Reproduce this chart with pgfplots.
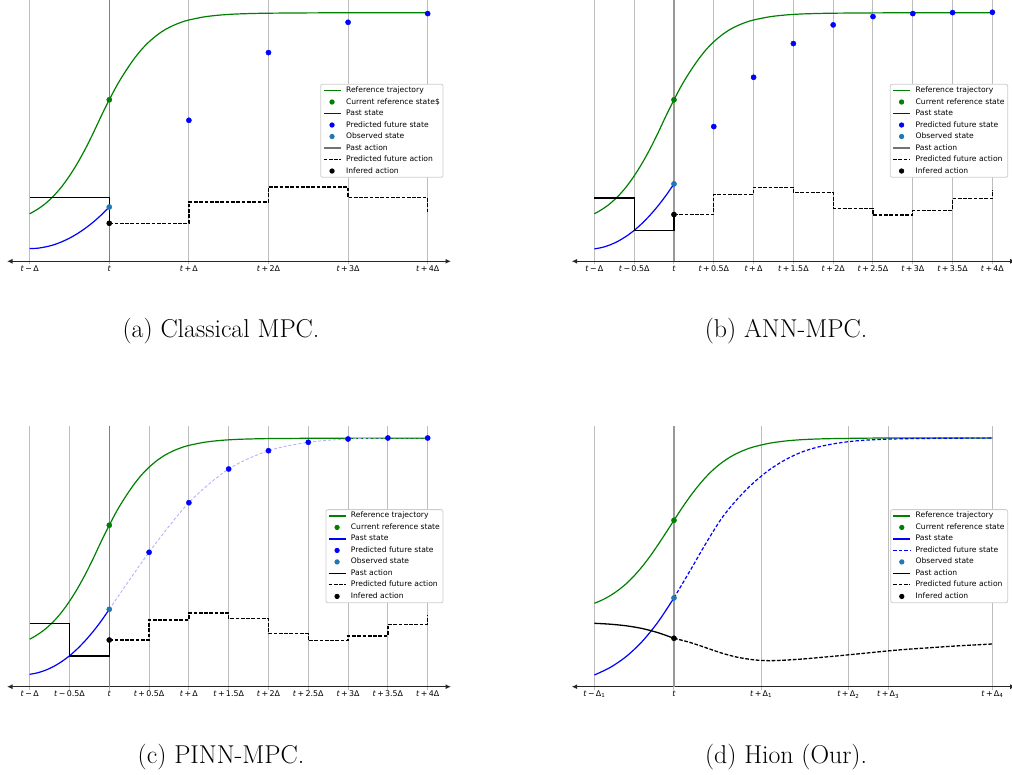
\documentclass[border=0pt]{standalone}
\usepackage{fontspec}
\usepackage{pgfplots}
\pgfplotsset{compat=1.18}
\usetikzlibrary{arrows.meta}
\newfontfamily\dv{DejaVu Sans}
\definecolor{mgreen}{HTML}{008000}
\definecolor{tabblue}{HTML}{1F77B4}
\definecolor{gridgray}{HTML}{BDBDBD}
\newcommand\tickfont{\dv\fontsize{7.9}{8.5}\selectfont}
\newcommand\legfont{\dv\fontsize{7.6}{8}\selectfont}
\newcommand\capfont{\fontsize{25.8}{30}\selectfont}
\newcommand\T{\textit{t}}
\newcommand\Pl{\,+\,}
\newcommand\Mi{\,−\,}
\newcommand\mylegend[3]{%
 \addlegendimage{mgreen, line width=1.2pt}\addlegendentry{Reference trajectory}
 \addlegendimage{only marks, mark=*, mark size=2.2pt, mgreen}\addlegendentry{#1}
 \addlegendimage{blue, line width=1.2pt}\addlegendentry{Past state}
 \addlegendimage{#2}\addlegendentry{Predicted future state}
 \addlegendimage{only marks, mark=*, mark size=2.2pt, tabblue}\addlegendentry{Observed state}
 \addlegendimage{#3}\addlegendentry{Past action}
 \addlegendimage{black, line width=1.1pt, dash pattern=on 3.7pt off 1.6pt}\addlegendentry{Predicted future action}
 \addlegendimage{only marks, mark=*, mark size=2.2pt, black}\addlegendentry{Infered action}
}
\pgfplotsset{
 panel/.style={
  scale only axis, width=444pt, height=261pt,
  xmin=-1.285, xmax=4.293, ymin=0, ymax=261,
  axis x line=bottom, axis y line=none, ytick=\empty,
  x axis line style={{Latex[length=5.5pt,width=5pt]}-{Latex[length=5.5pt,width=5pt]}, line width=1.3pt, black!85},
  xmajorgrids, major grid style={gridgray, line width=1pt},
  tick align=outside, major tick length=3pt, tick style={gridgray, line width=1pt},
  xticklabel style={font=\tickfont, inner sep=1pt},
  legend cell align=left,
  legend style={font=\legfont, draw=black!20, line width=0.8pt, rounded corners=2pt, fill=white,
    inner xsep=2pt, inner ysep=1.5pt, row sep=1.9pt, anchor=north east, at={(0.983,0.68)},
    nodes={inner sep=1.2pt, text height=5.6pt, text depth=1.6pt},
    /tikz/every odd column/.append style={column sep=3.5pt}},
 },
 refline/.style={forget plot, mgreen, line width=1.2pt, smooth},
 pastline/.style={forget plot, blue, line width=1.2pt, smooth},
 actline/.style={forget plot, black, line width=1.3pt, const plot},
 futline/.style={forget plot, black, line width=1.3pt, const plot, dash pattern=on 3.7pt off 1.6pt},
 dot/.style={forget plot, only marks, mark=*, mark size=2.6pt, #1},
}
\begin{document}
\begin{tikzpicture}
\useasboundingbox (0,0) rectangle (1012pt,774pt);

% (a)
\begin{axis}[panel, at={(7pt,512.7pt)}, anchor=south west,
  xtick={-1,0,1,2,3,4},
  xticklabels={{\T\Mi Δ},{\T},{\T\Pl Δ},{\T\Pl 2Δ},{\T\Pl 3Δ},{\T\Pl 4Δ}}]
\addplot[forget plot, gray, line width=1pt] coordinates {(0,0) (0,261)};
\addplot[refline] coordinates {(-1,47.5) (-0.9,52.1) (-0.8,57.9) (-0.7,65.3) (-0.6,74.4) (-0.5,85.4) (-0.4,98.1) (-0.3,112.5) (-0.2,128.5) (-0.1,145.5) (0,161.5) (0.1,176.5) (0.2,189.5) (0.3,201.2) (0.4,211.3) (0.5,219.5) (0.6,226.2) (0.7,231.6) (0.8,235.7) (0.9,238.9) (1.0,241.3) (1.2,244.5) (1.4,246.3) (1.6,247.3) (1.8,247.8) (2.0,248.1) (2.5,248.4) (3.0,248.5) (4.0,248.5)};
\addplot[pastline] coordinates {(-1,12.7) (-0.9,13.1) (-0.8,14.4) (-0.7,16.4) (-0.6,19.4) (-0.5,23.1) (-0.4,27.7) (-0.3,33.1) (-0.2,39.3) (-0.1,46.4) (0,54.3)};
\addplot[actline] coordinates {(-1,63.7) (0,38)};
\addplot[futline] coordinates {(0,38) (1,59.3) (2,74.3) (3,63.7) (4,48.7)};
\addplot[dot=blue] coordinates {(1,141) (2,208.7) (3,239) (4,247.7)};
\addplot[dot=mgreen] coordinates {(0,161.5)};
\addplot[dot=tabblue] coordinates {(0,54.3)};
\addplot[dot=black] coordinates {(0,38)};
\mylegend{Current reference state\$}{only marks, mark=*, mark size=2.2pt, blue}{black!55, line width=1.6pt}
\end{axis}

% (b)
\begin{axis}[panel, at={(571.7pt,512.7pt)}, anchor=south west,
  xtick={-1,-0.5,0,0.5,1,1.5,2,2.5,3,3.5,4},
  xticklabels={{\T\Mi Δ},{\T\Mi 0.5Δ},{\T},{\T\Pl 0.5Δ},{\T\Pl Δ},{\T\Pl 1.5Δ},{\T\Pl 2Δ},{\T\Pl 2.5Δ},{\T\Pl 3Δ},{\T\Pl 3.5Δ},{\T\Pl 4Δ}}]
\addplot[forget plot, gray!80, line width=1.8pt] coordinates {(0,0) (0,261)};
\addplot[refline] coordinates {(-1,47.5) (-0.9,52.1) (-0.8,57.9) (-0.7,65.3) (-0.6,74.4) (-0.5,85.4) (-0.4,98.1) (-0.3,112.5) (-0.2,128.5) (-0.1,145.5) (0,161.5) (0.1,176.5) (0.2,189.5) (0.3,201.2) (0.4,211.3) (0.5,219.5) (0.6,226.2) (0.7,231.6) (0.8,235.7) (0.9,238.9) (1.0,241.3) (1.2,244.5) (1.4,246.3) (1.6,247.3) (1.8,247.8) (2.0,248.1) (2.5,248.4) (3.0,248.5) (4.0,248.5)};
\addplot[pastline] coordinates {(-1,12.4) (-0.9,13.9) (-0.8,16.5) (-0.7,20.2) (-0.6,25.0) (-0.5,30.9) (-0.4,38.0) (-0.3,46.2) (-0.2,55.5) (-0.1,65.9) (0,77.4)};
\addplot[actline] coordinates {(-1,63.4) (-0.5,31) (0,46.7)};
\addplot[futline] coordinates {(0,46.7) (0.5,67) (1,74) (1.5,68.7) (2,53) (2.5,46.4) (3,51) (3.5,62.7) (4,71.7)};
\addplot[dot=blue] coordinates {(0.5,134.7) (1,184) (1.5,217.7) (2,236.4) (2.5,244.7) (3,247.7) (3.5,248.7) (4,249)};
\addplot[dot=mgreen] coordinates {(0,161.5)};
\addplot[dot=tabblue] coordinates {(0,77.4)};
\addplot[dot=black] coordinates {(0,46.7)};
\mylegend{Current reference state}{only marks, mark=*, mark size=2.2pt, blue}{black!55, line width=1.6pt}
\end{axis}

% (c)
\begin{axis}[panel, at={(7pt,87.3pt)}, anchor=south west,
  xtick={-1,-0.5,0,0.5,1,1.5,2,2.5,3,3.5,4},
  xticklabels={{\T\Mi Δ},{\T\Mi 0.5Δ},{\T},{\T\Pl 0.5Δ},{\T\Pl Δ},{\T\Pl 1.5Δ},{\T\Pl 2Δ},{\T\Pl 2.5Δ},{\T\Pl 3Δ},{\T\Pl 3.5Δ},{\T\Pl 4Δ}}]
\addplot[forget plot, gray, line width=1pt] coordinates {(0,0) (0,261)};
\addplot[refline] coordinates {(-1,47.5) (-0.9,52.1) (-0.8,57.9) (-0.7,65.3) (-0.6,74.4) (-0.5,85.4) (-0.4,98.1) (-0.3,112.5) (-0.2,128.5) (-0.1,145.5) (0,161.5) (0.1,176.5) (0.2,189.5) (0.3,201.2) (0.4,211.3) (0.5,219.5) (0.6,226.2) (0.7,231.6) (0.8,235.7) (0.9,238.9) (1.0,241.3) (1.2,244.5) (1.4,246.3) (1.6,247.3) (1.8,247.8) (2.0,248.1) (2.5,248.4) (3.0,248.5) (4.0,248.5)};
\addplot[pastline] coordinates {(-1,12.4) (-0.9,13.9) (-0.8,16.5) (-0.7,20.2) (-0.6,25.0) (-0.5,30.9) (-0.4,38.0) (-0.3,46.2) (-0.2,55.5) (-0.1,65.9) (0,77.4)};
\addplot[forget plot, blue!30, line width=0.9pt, smooth, dash pattern=on 3pt off 2pt] coordinates {(0,77.4) (0.5,134.4) (1,184) (1.5,217.7) (2,236) (2.5,244.4) (3,247.7) (3.5,248.7) (4,248.7)};
\addplot[actline] coordinates {(-1,63.4) (-0.5,30.7) (0,46.7)};
\addplot[futline] coordinates {(0,46.7) (0.5,66.7) (1,73.7) (1.5,68) (2,53) (2.5,46) (3,50.7) (3.5,62.4) (4,71.7)};
\addplot[dot=blue] coordinates {(0.5,134.4) (1,184) (1.5,217.7) (2,236) (2.5,244.4) (3,247.7) (3.5,248.7) (4,248.7)};
\addplot[dot=mgreen] coordinates {(0,161.5)};
\addplot[dot=tabblue] coordinates {(0,77.4)};
\addplot[dot=black] coordinates {(0,46.7)};
\mylegend{Current reference state}{only marks, mark=*, mark size=2.2pt, blue}{black, line width=1.2pt}
\end{axis}

% (d)
\begin{axis}[panel, at={(571.7pt,87.3pt)}, anchor=south west,
  xtick={-1,0,1.095,2.19,2.69,4},
  xticklabels={{\T\Mi Δ\textsubscript{1}},{\T},{\T\Pl Δ\textsubscript{1}},{\T\Pl Δ\textsubscript{2}},{\T\Pl Δ\textsubscript{3}},{\T\Pl Δ\textsubscript{4}}}]
\addplot[forget plot, gray!80, line width=1.8pt] coordinates {(0,0) (0,261)};
\addplot[refline] coordinates {(-1,83.4) (-0.9,86.8) (-0.8,91.1) (-0.7,96.5) (-0.6,103.0) (-0.5,110.9) (-0.4,120.1) (-0.3,130.5) (-0.2,142.0) (-0.1,154.1) (0,166.4) (0.1,178.6) (0.2,190.0) (0.3,200.4) (0.4,209.6) (0.5,217.5) (0.6,224.0) (0.7,229.4) (0.8,233.7) (0.9,237.1) (1.0,239.8) (1.2,243.5) (1.4,245.7) (1.6,247.0) (1.8,247.7) (2.0,248.1) (2.5,248.6) (3.0,248.7) (4.0,248.7)};
\addplot[pastline] coordinates {(-1,11.7) (-0.8,19.3) (-0.6,30.2) (-0.4,45.2) (-0.2,64.8) (0,88.8)};
\addplot[forget plot, blue, line width=1.2pt, smooth, dash pattern=on 3.5pt off 2pt] coordinates {(0,88.8) (0.2,115.7) (0.4,143.2) (0.6,168.5) (0.8,188) (1.0,204) (1.2,217) (1.4,227) (1.6,234.5) (1.8,239.5) (2.0,242.8) (2.2,245.1) (2.4,246.5) (2.7,247.6) (3.0,248.1) (3.5,248.5) (4.0,248.6)};
\addplot[forget plot, black, line width=1.3pt, smooth] coordinates {(-1,63.4) (-0.8,62.5) (-0.6,60.9) (-0.4,58.2) (-0.2,54.0) (0,48.4)};
\addplot[forget plot, black, line width=1.3pt, smooth, dash pattern=on 3.7pt off 1.6pt] coordinates {(0,48.4) (0.2,44.3) (0.4,39.0) (0.6,33.6) (0.8,29.4) (1.0,26.9) (1.15,26.1) (1.3,26.2) (1.6,27.6) (2.0,30.4) (2.4,33.5) (2.8,36.6) (3.2,38.9) (3.6,41.0) (4.0,42.7)};
\addplot[dot=mgreen] coordinates {(0,166.4)};
\addplot[dot=tabblue] coordinates {(0,88.8)};
\addplot[dot=black] coordinates {(0,48.4)};
\mylegend{Current reference state}{blue, line width=1.2pt, dash pattern=on 3.5pt off 2pt}{black, line width=1.2pt}
\end{axis}

\node[anchor=base, font=\capfont] at (221pt,436.7pt) {(a) Classical MPC.};
\node[anchor=base, font=\capfont] at (786pt,436.7pt) {(b) ANN-MPC.};
\node[anchor=base, font=\capfont] at (221pt,10.7pt) {(c) PINN-MPC.};
\node[anchor=base, font=\capfont] at (786pt,10.7pt) {(d) Hion (Our).};
\end{tikzpicture}
\end{document}
